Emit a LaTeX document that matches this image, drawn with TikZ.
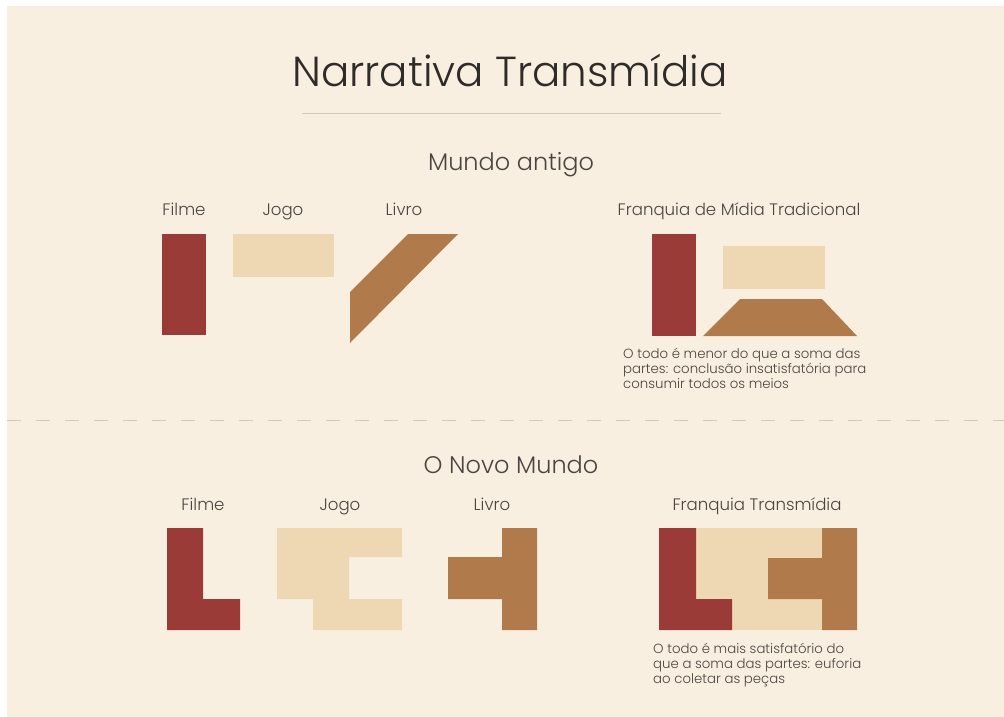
\documentclass[tikz,border=0pt]{standalone}
\usepackage{fontspec}
\setmainfont{Poppins}[UprightFont=* Light]
\definecolor{bg}{HTML}{F9EFE0}
\definecolor{redc}{HTML}{9B3B38}
\definecolor{beigec}{HTML}{EDD8B3}
\definecolor{brownc}{HTML}{B07A4B}
\definecolor{txt}{HTML}{2E2B28}
\definecolor{txt2}{HTML}{4A4540}
\definecolor{rulec}{HTML}{D3CABD}
\begin{document}
\begin{tikzpicture}[x=1pt,y=-1pt,
  title/.style={font=\fontsize{42}{46}\selectfont, text=txt, anchor=base, inner sep=0},
  heading/.style={font=\fontsize{24}{28}\selectfont, text=txt2, anchor=base, inner sep=0},
  lbl/.style={font=\fontsize{16.6}{19}\selectfont, text=txt2, anchor=base, inner sep=0},
  captxt/.style={font=\fontsize{13.3}{15.2}\selectfont, text=txt2, anchor=base west, inner sep=0, align=left}]
\useasboundingbox (0,0) rectangle (1004,717);
\fill[white] (0,0) rectangle (1004,717);
\fill[bg] (7,6) rectangle (1004,717);
% title
\node[title] (t) at (510,87) {Narrativa Transmídia};
\draw[rulec, line width=0.8pt] (302,113) -- (721,113);
\node[heading] (h1) at (511,170) {Mundo antigo};
% section 1 labels
\node[lbl] (l1) at (184,215) {Filme};
\node[lbl] (l2) at (283,215) {Jogo};
\node[lbl] (l3) at (404,215) {Livro};
\node[lbl] (l4) at (739,215) {Franquia de Mídia Tradicional};
% section 1 shapes
\fill[redc] (162,234) rectangle (206,335);
\fill[beigec] (233,234) rectangle (334,277);
\fill[brownc] (408,234) -- (458,234) -- (350,343) -- (350,292) -- cycle;
\fill[redc] (652,234) rectangle (696,336);
\fill[beigec] (723,246) rectangle (825,289);
\fill[brownc] (740,299) -- (822,299) -- (857,336) -- (703,336) -- cycle;
\node[captxt] (c1) at (623,388.4) {O todo é menor do que a soma das\\partes: conclusão insatisfatória para\\consumir todos os meios};
% divider
\draw[rulec, line width=1pt, dash pattern=on 14pt off 15pt] (7,420) -- (1004,420);
\node[heading] (h2) at (511,473) {O Novo Mundo};
% section 2 labels
\node[lbl] (m1) at (203,510) {Filme};
\node[lbl] (m2) at (340,510) {Jogo};
\node[lbl] (m3) at (492,510) {Livro};
\node[lbl] (m4) at (757,510) {Franquia Transmídia};
% section 2 shapes
\fill[redc] (167,528) -- (203,528) -- (203,599) -- (240,599) -- (240,630) -- (167,630) -- cycle;
\fill[beigec] (277,528) -- (402,528) -- (402,557) -- (349,557) -- (349,599) -- (402,599) -- (402,630) -- (313,630) -- (313,599) -- (277,599) -- cycle;
\fill[brownc] (502,528) -- (537,528) -- (537,630) -- (502,630) -- (502,599) -- (448,599) -- (448,557) -- (502,557) -- cycle;
\fill[beigec] (696,528) rectangle (822,630);
\fill[redc] (659,528) -- (696,528) -- (696,599) -- (732,599) -- (732,630) -- (659,630) -- cycle;
\fill[brownc] (822,528) -- (857,528) -- (857,630) -- (822,630) -- (822,599) -- (768,599) -- (768,558) -- (822,558) -- cycle;
\node[captxt] (c2) at (653,683.4) {O todo é mais satisfatório do\\que a soma das partes: euforia\\ao coletar as peças};
\end{tikzpicture}
\end{document}
